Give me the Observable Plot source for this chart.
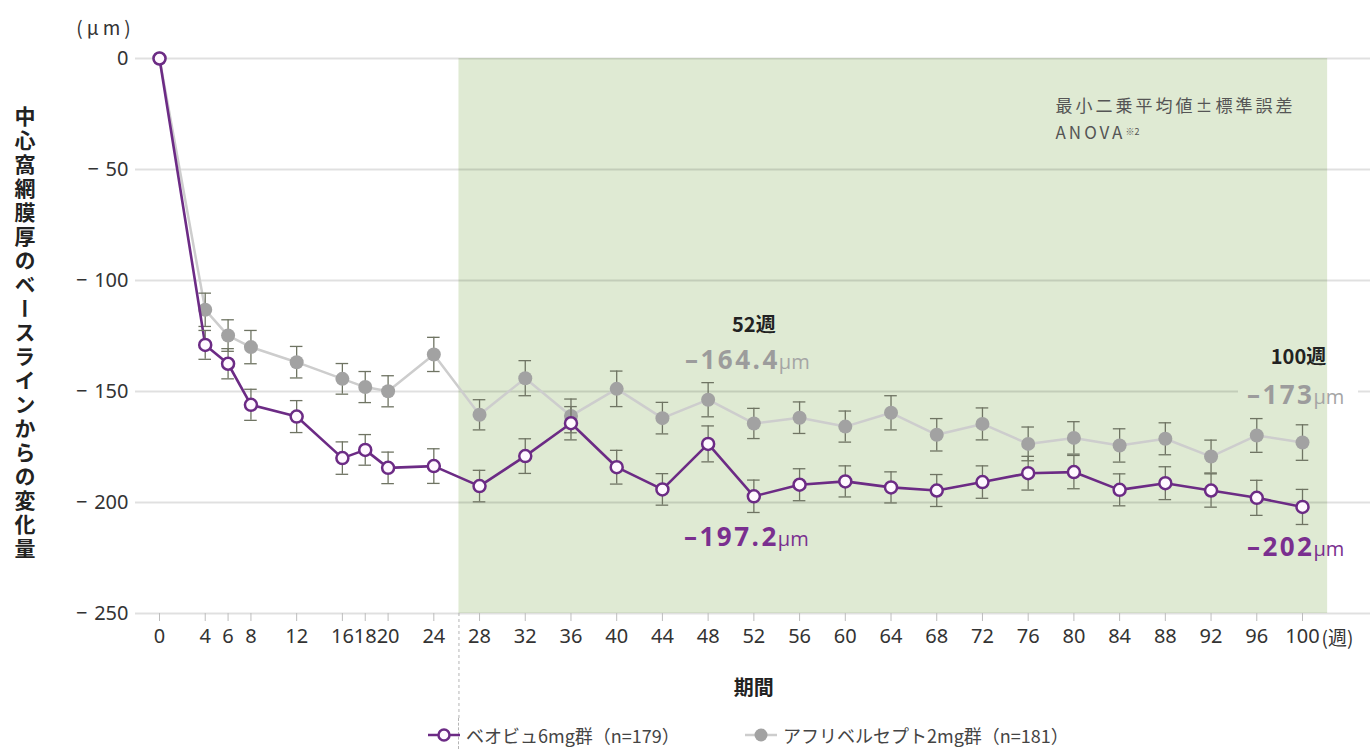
<!DOCTYPE html>
<html>
<head>
<meta charset="utf-8">
<script src="https://cdn.jsdelivr.net/npm/d3@7"></script>
<script src="https://cdn.jsdelivr.net/npm/@observablehq/plot@0.6"></script>
<style>
  html, body { margin: 0; padding: 0; background: #fff; }
  #chart svg { display: block; color: #333; }
  #legend { position: relative; width: 1370px; height: 31px; font-family: "Noto Sans CJK JP", sans-serif; font-size: 18px; color: #444; }
  #legend .item { position: absolute; top: 0; height: 34px; line-height: 34px; display: flex; align-items: center; white-space: nowrap; }
  #legend .item svg { margin-right: 6px; }
  #legend .dash { position: absolute; left: 458px; top: 0; bottom: 0; border-left: 1px dashed #b5b5b5; }
</style>
</head>
<body>
<div id="chart"></div>
<div id="legend"></div>
<script>
// ---- data ----
const weeks = [0,4,6,8,12,16,18,20,24,28,32,36,40,44,48,52,56,60,64,68,72,76,80,84,88,92,96,100];
const beovuMean = [0,-129,-137.5,-156,-161.3,-180,-176.3,-184.4,-183.6,-192.6,-179.1,-164.3,-184.1,-194.1,-173.6,-197.2,-192,-190.5,-193.2,-194.6,-190.8,-186.8,-186.3,-194.3,-191.3,-194.6,-197.9,-202];
const beovuSE   = [0,6.5,6.8,7,7.2,7.3,6.9,7.1,7.8,7.1,7.8,7.5,7.6,7.1,8.1,7.3,7.2,7,7,7.2,7.3,7.6,7.5,7.2,7.4,7.5,7.9,7.9];
const aflibMean = [0,-113.2,-124.8,-130,-136.8,-144.3,-148,-149.9,-133.3,-160.5,-144,-161,-148.8,-162,-153.7,-164.4,-161.8,-165.8,-159.6,-169.5,-164.6,-173.6,-170.9,-174.3,-171.3,-179.3,-169.8,-173];
const aflibSE   = [0,7.5,7.1,7.5,7.1,6.9,7,7,7.7,6.8,7.9,7.6,8,7.1,7.7,6.8,7.1,7,7.7,7.3,7.2,7.6,7.3,7.5,7.2,7.4,7.6,8];
const yTicks = [0,-50,-100,-150,-200,-250];
const seriesNames = ["ベオビュ6mg群（n=179）", "アフリベルセプト2mg群（n=181）"];
const shadeStart = 26.2, shadeEnd = 102.2;
const yLabel = "中心窩網膜厚のベースラインからの変化量";
const xLabel = "期間";
const unitLabel = "(μm)";
const noteLines = "最小二乗平均値±標準誤差\nANOVA";

// ---- styles ----
const PURPLE = "#6c2b85";
const GREY = "#a2a2a2";
const GREY_LINE = "#cdcdcd";
const ERR = "#6f7463";
const GREEN = "#dfead3";

const beovu = weeks.map((w, i) => ({week: w, mean: beovuMean[i], se: beovuSE[i]}));
const aflib = weeks.map((w, i) => ({week: w, mean: aflibMean[i], se: aflibSE[i]}));
const grid = yTicks.filter(d => d !== -150).map(y => ({y, x1: -2.1, x2: 106}));
grid.push({y: -150, x1: -2.1, x2: 94.4}, {y: -150, x1: 104.9, x2: 106});

const capW = 0.55;
function errMarks(data) {
  const d = data.filter(p => p.se > 0);
  return [
    Plot.ruleX(d, {x: "week", y1: p => p.mean - p.se, y2: p => p.mean + p.se, stroke: ERR, strokeWidth: 1.3}),
    Plot.ruleY(d, {y: p => p.mean - p.se, x1: p => p.week - capW, x2: p => p.week + capW, stroke: ERR, strokeWidth: 1.3}),
    Plot.ruleY(d, {y: p => p.mean + p.se, x1: p => p.week - capW, x2: p => p.week + capW, stroke: ERR, strokeWidth: 1.3})
  ];
}
const NUMFONT = "'Open Sans', 'Noto Sans', sans-serif";
const b52 = beovu.find(d => d.week === 52), a52 = aflib.find(d => d.week === 52);
const b100 = beovu.find(d => d.week === 100), a100 = aflib.find(d => d.week === 100);
const fmt = v => "–" + Math.abs(v);
const NUM = {textAnchor: "end", fontSize: 26, fontWeight: "bold", fontFamily: NUMFONT};
const UNIT = {textAnchor: "start", fontSize: 20, fontFamily: NUMFONT};

const plot = Plot.plot({
  width: 1370,
  height: 718,
  marginLeft: 159,
  marginRight: 68,
  marginTop: 58,
  marginBottom: 105,
  style: {fontFamily: "'Noto Sans CJK JP', sans-serif", background: "#fff"},
  x: {domain: [0, 100]},
  y: {domain: [-250, 0]},
  marks: [
    Plot.rect([{x1: shadeStart, x2: shadeEnd}], {x1: "x1", x2: "x2", y1: -250, y2: 0, fill: GREEN}),
    Plot.ruleY(grid, {y: "y", x1: "x1", x2: "x2", stroke: "#000", strokeOpacity: 0.12, strokeWidth: 2}),
    Plot.ruleX([shadeStart], {y1: -250, y2: -320, stroke: "#b5b5b5", strokeDasharray: "3,3", strokeWidth: 1}),
    Plot.axisX(weeks, {tickSize: 8, tickFormat: () => "", color: "#bdbdbd", label: null}),
    Plot.axisX(weeks, {tickSize: 0, tickPadding: 15, fontSize: 20, fontFamily: "'Noto Sans', sans-serif", label: null, fill: "#333"}),
    Plot.axisY(yTicks, {tickSize: 0, tickPadding: 31, fontSize: 20, fontFamily: "'Noto Sans', sans-serif", label: null,
      tickFormat: d => d < 0 ? "−\u2004" + Math.abs(d) : String(d)}),
    Plot.text(["(週)"], {x: 100, y: -250, dx: 19, dy: 25, textAnchor: "start", fontSize: 19, fill: "#333"}),
    Plot.text([xLabel], {x: 52, y: -250, dy: 75, fontSize: 20, fontWeight: "bold", fill: "#222"}),
    Plot.text([unitLabel], {frameAnchor: "top-left", dx: -54, dy: -37, textAnchor: "middle", fontSize: 19, fill: "#333"}),
    Plot.text([noteLines], {frameAnchor: "top-left", dx: 896, dy: 58.5, textAnchor: "start", lineAnchor: "middle", lineHeight: 1.6, fontSize: 17, fill: "#555"}),
    // Aflibercept
    Plot.line(aflib, {x: "week", y: "mean", stroke: GREY_LINE, strokeWidth: 2.5}),
    ...errMarks(aflib),
    Plot.dot(aflib, {x: "week", y: "mean", r: 7, fill: GREY, stroke: "none"}),
    // Beovu
    Plot.line(beovu, {x: "week", y: "mean", stroke: PURPLE, strokeWidth: 2.6}),
    ...errMarks(beovu),
    Plot.dot(beovu, {x: "week", y: "mean", r: 6, fill: "#fff8ff", stroke: PURPLE, strokeWidth: 2.5}),
    // annotations
    Plot.text(["52週"], {x: 52, y: a52.mean, dy: -98, fontSize: 20, fontWeight: "bold", fill: "#222"}),
    Plot.text([a52], {x: "week", y: "mean", text: d => fmt(d.mean), dx: 26, dy: -63, ...NUM, fill: "#9c9c9c"}),
    Plot.text([a52], {x: "week", y: "mean", text: () => "μm", dx: 25, dy: -61, ...UNIT, fill: "#a5a5a5"}),
    Plot.text([b52], {x: "week", y: "mean", text: d => fmt(d.mean), dx: 25, dy: 41, ...NUM, fill: "#7a2f8f"}),
    Plot.text([b52], {x: "week", y: "mean", text: () => "μm", dx: 24, dy: 43, ...UNIT, fill: "#7a2f8f"}),
    Plot.text(["100週"], {x: 100, y: a100.mean, dy: -85, dx: -4, fontSize: 20, fontWeight: "bold", fill: "#222"}),
    Plot.text([a100], {x: "week", y: "mean", text: d => fmt(d.mean), dx: 12, dy: -47, ...NUM, fill: "#9c9c9c"}),
    Plot.text([a100], {x: "week", y: "mean", text: () => "μm", dx: 11, dy: -45, ...UNIT, fill: "#a5a5a5"}),
    Plot.text([b100], {x: "week", y: "mean", text: d => fmt(d.mean), dx: 12, dy: 41, ...NUM, fill: "#7a2f8f"}),
    Plot.text([b100], {x: "week", y: "mean", text: () => "μm", dx: 11, dy: 43, ...UNIT, fill: "#7a2f8f"})
  ]
});

// letter spacing for big numbers
d3.select(plot).selectAll("text").filter(function() { return /^–\d/.test(this.textContent); })
  .style("letter-spacing", "2.5px");
// unit label tracking
d3.select(plot).selectAll("text").filter(function() { return this.textContent === unitLabel; })
  .style("letter-spacing", "4px");
// note: wider tracking + superscript ※2 after ANOVA
d3.select(plot).selectAll("text").filter(function() { return this.textContent.indexOf("ANOVA") >= 0; })
  .style("letter-spacing", "3px")
  .each(function() {
    const tspans = d3.select(this).selectAll("tspan");
    const last = tspans.nodes()[tspans.size() - 1];
    if (last) d3.select(last).append("tspan").attr("dy", "-0.5em").attr("font-size", 9).style("letter-spacing", "0px").text("※2");
  });
// vertical y-axis label
d3.select(plot).append("text")
  .attr("x", 25).attr("y", 106)
  .attr("writing-mode", "vertical-rl")
  .attr("text-anchor", "start")
  .attr("font-size", 21).attr("font-weight", "bold").attr("fill", "#222")
  .style("letter-spacing", "3px")
  .attr("font-family", "'Noto Sans CJK JP', sans-serif")
  .text(yLabel);

document.getElementById("chart").appendChild(plot);

// legend
const legend = document.getElementById("legend");
legend.innerHTML = `
  <div class="dash"></div>
  <div class="item" style="left:428px">
    <svg width="32" height="16"><line x1="0" y1="8" x2="32" y2="8" stroke="${PURPLE}" stroke-width="2.5"/><circle cx="16" cy="8" r="5.5" fill="#fff8ff" stroke="${PURPLE}" stroke-width="2.5"/></svg>
    <span>${seriesNames[0]}</span>
  </div>
  <div class="item" style="left:745px">
    <svg width="32" height="16"><line x1="0" y1="8" x2="32" y2="8" stroke="${GREY_LINE}" stroke-width="2.5"/><circle cx="16" cy="8" r="6.5" fill="${GREY}"/></svg>
    <span>${seriesNames[1]}</span>
  </div>`;
</script>
</body>
</html>
